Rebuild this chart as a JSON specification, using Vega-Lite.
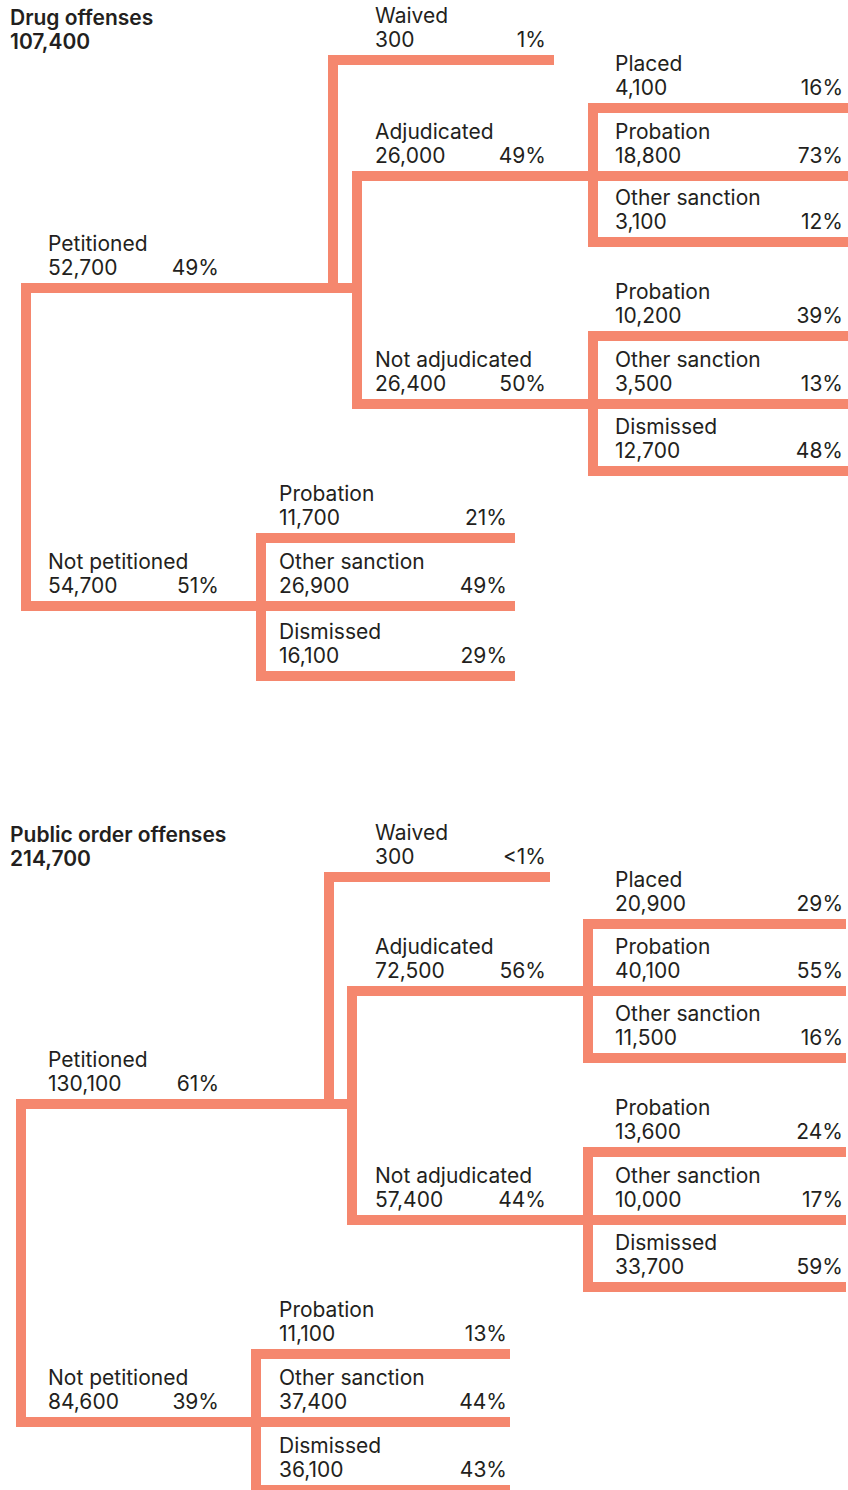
{
  "$schema": "https://vega.github.io/schema/vega-lite/v6.json",
  "width": 848,
  "height": 1490,
  "autosize": "none",
  "padding": 0,
  "background": "white",
  "config": {
    "view": {"stroke": null},
    "text": {"font": "Inter", "fontSize": 21, "color": "#231f20"}
  },
  "datasets": {
    "segments": [
      {"panel": "Drug offenses", "link": "root", "x": 2.6, "x2": 2.6, "y": 28.8, "y2": 60.6},
      {"panel": "Drug offenses", "link": "Petitioned", "x": 2.6, "x2": 35.7, "y": 28.8, "y2": 28.8},
      {"panel": "Drug offenses", "link": "Waived stem", "x": 33.3, "x2": 33.3, "y": 6.0, "y2": 28.8},
      {"panel": "Drug offenses", "link": "Waived", "x": 33.3, "x2": 54.9, "y": 6.0, "y2": 6.0},
      {"panel": "Drug offenses", "link": "Adjudication stem", "x": 35.7, "x2": 35.7, "y": 17.6, "y2": 40.4},
      {"panel": "Drug offenses", "link": "Adjudicated", "x": 35.7, "x2": 59.3, "y": 17.6, "y2": 17.6},
      {"panel": "Drug offenses", "link": "Not adjudicated", "x": 35.7, "x2": 59.3, "y": 40.4, "y2": 40.4},
      {"panel": "Drug offenses", "link": "Adjudicated stem", "x": 59.3, "x2": 59.3, "y": 10.8, "y2": 24.2},
      {"panel": "Drug offenses", "link": "Placed", "x": 59.3, "x2": 84.8, "y": 10.8, "y2": 10.8},
      {"panel": "Drug offenses", "link": "Probation", "x": 59.3, "x2": 84.8, "y": 17.6, "y2": 17.6},
      {"panel": "Drug offenses", "link": "Other sanction", "x": 59.3, "x2": 84.8, "y": 24.2, "y2": 24.2},
      {"panel": "Drug offenses", "link": "Not adjudicated stem", "x": 59.3, "x2": 59.3, "y": 33.6, "y2": 47.1},
      {"panel": "Drug offenses", "link": "Probation", "x": 59.3, "x2": 84.8, "y": 33.6, "y2": 33.6},
      {"panel": "Drug offenses", "link": "Other sanction", "x": 59.3, "x2": 84.8, "y": 40.4, "y2": 40.4},
      {"panel": "Drug offenses", "link": "Dismissed", "x": 59.3, "x2": 84.8, "y": 47.1, "y2": 47.1},
      {"panel": "Drug offenses", "link": "Not petitioned", "x": 2.6, "x2": 26.1, "y": 60.6, "y2": 60.6},
      {"panel": "Drug offenses", "link": "Not petitioned stem", "x": 26.1, "x2": 26.1, "y": 53.8, "y2": 67.6},
      {"panel": "Drug offenses", "link": "Probation", "x": 26.1, "x2": 51.0, "y": 53.8, "y2": 53.8},
      {"panel": "Drug offenses", "link": "Other sanction", "x": 26.1, "x2": 51.0, "y": 60.6, "y2": 60.6},
      {"panel": "Drug offenses", "link": "Dismissed", "x": 26.1, "x2": 51.0, "y": 67.6, "y2": 67.6},

      {"panel": "Public order offenses", "link": "root", "x": 2.1, "x2": 2.1, "y": 110.4, "y2": 142.2},
      {"panel": "Public order offenses", "link": "Petitioned", "x": 2.1, "x2": 35.2, "y": 110.4, "y2": 110.4},
      {"panel": "Public order offenses", "link": "Waived stem", "x": 32.9, "x2": 32.9, "y": 87.7, "y2": 110.4},
      {"panel": "Public order offenses", "link": "Waived", "x": 32.9, "x2": 54.5, "y": 87.7, "y2": 87.7},
      {"panel": "Public order offenses", "link": "Adjudication stem", "x": 35.2, "x2": 35.2, "y": 99.1, "y2": 122.0},
      {"panel": "Public order offenses", "link": "Adjudicated", "x": 35.2, "x2": 58.8, "y": 99.1, "y2": 99.1},
      {"panel": "Public order offenses", "link": "Not adjudicated", "x": 35.2, "x2": 58.8, "y": 122.0, "y2": 122.0},
      {"panel": "Public order offenses", "link": "Adjudicated stem", "x": 58.8, "x2": 58.8, "y": 92.4, "y2": 105.8},
      {"panel": "Public order offenses", "link": "Placed", "x": 58.8, "x2": 84.1, "y": 92.4, "y2": 92.4},
      {"panel": "Public order offenses", "link": "Probation", "x": 58.8, "x2": 84.1, "y": 99.1, "y2": 99.1},
      {"panel": "Public order offenses", "link": "Other sanction", "x": 58.8, "x2": 84.1, "y": 105.8, "y2": 105.8},
      {"panel": "Public order offenses", "link": "Not adjudicated stem", "x": 58.8, "x2": 58.8, "y": 115.2, "y2": 128.7},
      {"panel": "Public order offenses", "link": "Probation", "x": 58.8, "x2": 84.1, "y": 115.2, "y2": 115.2},
      {"panel": "Public order offenses", "link": "Other sanction", "x": 58.8, "x2": 84.1, "y": 122.0, "y2": 122.0},
      {"panel": "Public order offenses", "link": "Dismissed", "x": 58.8, "x2": 84.1, "y": 128.7, "y2": 128.7},
      {"panel": "Public order offenses", "link": "Not petitioned", "x": 2.1, "x2": 25.6, "y": 142.2, "y2": 142.2},
      {"panel": "Public order offenses", "link": "Not petitioned stem", "x": 25.6, "x2": 25.6, "y": 135.4, "y2": 149.0},
      {"panel": "Public order offenses", "link": "Probation", "x": 25.6, "x2": 50.5, "y": 135.4, "y2": 135.4},
      {"panel": "Public order offenses", "link": "Other sanction", "x": 25.6, "x2": 50.5, "y": 142.2, "y2": 142.2},
      {"panel": "Public order offenses", "link": "Dismissed", "x": 25.6, "x2": 50.5, "y": 149.0, "y2": 149.0}
    ],
    "nodes": [
      {"panel": "Drug offenses", "level": 0, "name": "Drug offenses", "count": 107400, "pct": "", "x": 1.0, "xr": 1.0, "y": 6.2},
      {"panel": "Drug offenses", "level": 1, "name": "Petitioned", "count": 52700, "pct": "49%", "x": 4.8, "xr": 21.9, "y": 28.8},
      {"panel": "Drug offenses", "level": 1, "name": "Not petitioned", "count": 54700, "pct": "51%", "x": 4.8, "xr": 21.9, "y": 60.6},
      {"panel": "Drug offenses", "level": 2, "name": "Waived", "count": 300, "pct": "1%", "x": 37.5, "xr": 54.6, "y": 6.0},
      {"panel": "Drug offenses", "level": 2, "name": "Adjudicated", "count": 26000, "pct": "49%", "x": 37.5, "xr": 54.6, "y": 17.6},
      {"panel": "Drug offenses", "level": 2, "name": "Not adjudicated", "count": 26400, "pct": "50%", "x": 37.5, "xr": 54.6, "y": 40.4},
      {"panel": "Drug offenses", "level": 3, "name": "Placed", "count": 4100, "pct": "16%", "x": 61.5, "xr": 84.3, "y": 10.8},
      {"panel": "Drug offenses", "level": 3, "name": "Probation", "count": 18800, "pct": "73%", "x": 61.5, "xr": 84.3, "y": 17.6},
      {"panel": "Drug offenses", "level": 3, "name": "Other sanction", "count": 3100, "pct": "12%", "x": 61.5, "xr": 84.3, "y": 24.2},
      {"panel": "Drug offenses", "level": 3, "name": "Probation", "count": 10200, "pct": "39%", "x": 61.5, "xr": 84.3, "y": 33.6},
      {"panel": "Drug offenses", "level": 3, "name": "Other sanction", "count": 3500, "pct": "13%", "x": 61.5, "xr": 84.3, "y": 40.4},
      {"panel": "Drug offenses", "level": 3, "name": "Dismissed", "count": 12700, "pct": "48%", "x": 61.5, "xr": 84.3, "y": 47.1},
      {"panel": "Drug offenses", "level": 2, "name": "Probation", "count": 11700, "pct": "21%", "x": 27.9, "xr": 50.7, "y": 53.8},
      {"panel": "Drug offenses", "level": 2, "name": "Other sanction", "count": 26900, "pct": "49%", "x": 27.9, "xr": 50.7, "y": 60.6},
      {"panel": "Drug offenses", "level": 2, "name": "Dismissed", "count": 16100, "pct": "29%", "x": 27.9, "xr": 50.7, "y": 67.6},

      {"panel": "Public order offenses", "level": 0, "name": "Public order offenses", "count": 214700, "pct": "", "x": 1.0, "xr": 1.0, "y": 87.9},
      {"panel": "Public order offenses", "level": 1, "name": "Petitioned", "count": 130100, "pct": "61%", "x": 4.8, "xr": 21.9, "y": 110.4},
      {"panel": "Public order offenses", "level": 1, "name": "Not petitioned", "count": 84600, "pct": "39%", "x": 4.8, "xr": 21.9, "y": 142.2},
      {"panel": "Public order offenses", "level": 2, "name": "Waived", "count": 300, "pct": "<1%", "x": 37.5, "xr": 54.6, "y": 87.7},
      {"panel": "Public order offenses", "level": 2, "name": "Adjudicated", "count": 72500, "pct": "56%", "x": 37.5, "xr": 54.6, "y": 99.1},
      {"panel": "Public order offenses", "level": 2, "name": "Not adjudicated", "count": 57400, "pct": "44%", "x": 37.5, "xr": 54.6, "y": 122.0},
      {"panel": "Public order offenses", "level": 3, "name": "Placed", "count": 20900, "pct": "29%", "x": 61.5, "xr": 84.3, "y": 92.4},
      {"panel": "Public order offenses", "level": 3, "name": "Probation", "count": 40100, "pct": "55%", "x": 61.5, "xr": 84.3, "y": 99.1},
      {"panel": "Public order offenses", "level": 3, "name": "Other sanction", "count": 11500, "pct": "16%", "x": 61.5, "xr": 84.3, "y": 105.8},
      {"panel": "Public order offenses", "level": 3, "name": "Probation", "count": 13600, "pct": "24%", "x": 61.5, "xr": 84.3, "y": 115.2},
      {"panel": "Public order offenses", "level": 3, "name": "Other sanction", "count": 10000, "pct": "17%", "x": 61.5, "xr": 84.3, "y": 122.0},
      {"panel": "Public order offenses", "level": 3, "name": "Dismissed", "count": 33700, "pct": "59%", "x": 61.5, "xr": 84.3, "y": 128.7},
      {"panel": "Public order offenses", "level": 2, "name": "Probation", "count": 11100, "pct": "13%", "x": 27.9, "xr": 50.7, "y": 135.4},
      {"panel": "Public order offenses", "level": 2, "name": "Other sanction", "count": 37400, "pct": "44%", "x": 27.9, "xr": 50.7, "y": 142.2},
      {"panel": "Public order offenses", "level": 2, "name": "Dismissed", "count": 36100, "pct": "43%", "x": 27.9, "xr": 50.7, "y": 149.0}
    ]
  },
  "encoding": {
    "x": {"field": "x", "type": "quantitative", "scale": {"domain": [0, 84.8], "nice": false, "zero": false}, "axis": null},
    "y": {"field": "y", "type": "quantitative", "scale": {"domain": [0, 149], "nice": false, "zero": false, "reverse": true}, "axis": null}
  },
  "layer": [
    {
      "data": {"name": "segments"},
      "mark": {"type": "rule", "strokeWidth": 10, "strokeCap": "square", "color": "#f5876e"},
      "encoding": {"x2": {"field": "x2"}, "y2": {"field": "y2"}}
    },
    {
      "data": {"name": "nodes"},
      "transform": [{"filter": "datum.level > 0"}],
      "mark": {"type": "text", "align": "left", "baseline": "alphabetic", "dy": -37},
      "encoding": {"text": {"field": "name"}}
    },
    {
      "data": {"name": "nodes"},
      "transform": [{"filter": "datum.level > 0"}],
      "mark": {"type": "text", "align": "left", "baseline": "alphabetic", "dy": -13.5},
      "encoding": {"text": {"field": "count", "type": "quantitative", "format": ","}}
    },
    {
      "data": {"name": "nodes"},
      "transform": [{"filter": "datum.level > 0"}],
      "mark": {"type": "text", "align": "right", "baseline": "alphabetic", "dy": -13.5},
      "encoding": {"x": {"field": "xr", "type": "quantitative"}, "text": {"field": "pct"}}
    },
    {
      "data": {"name": "nodes"},
      "transform": [{"filter": "datum.level == 0"}],
      "mark": {"type": "text", "align": "left", "baseline": "alphabetic", "dy": -37, "fontWeight": 600},
      "encoding": {"text": {"field": "name"}}
    },
    {
      "data": {"name": "nodes"},
      "transform": [{"filter": "datum.level == 0"}],
      "mark": {"type": "text", "align": "left", "baseline": "alphabetic", "dy": -13.5, "fontWeight": 600},
      "encoding": {"text": {"field": "count", "type": "quantitative", "format": ","}}
    }
  ]
}
